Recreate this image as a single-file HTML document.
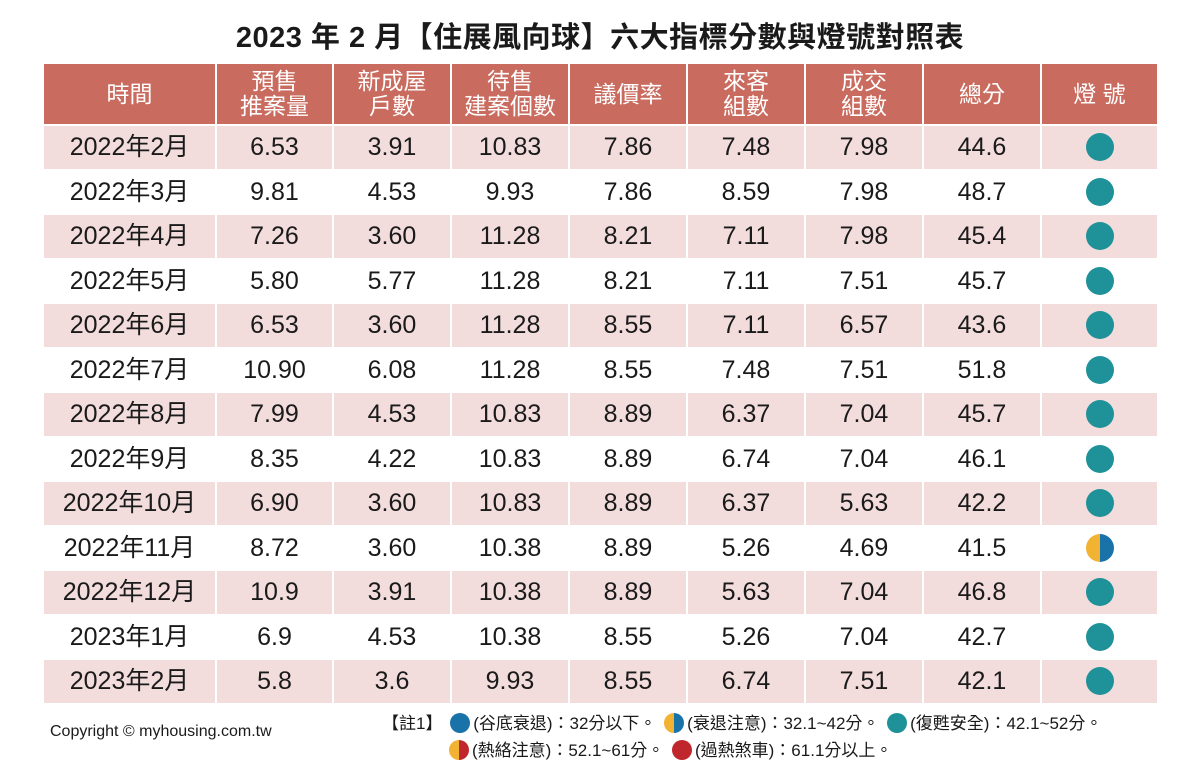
<!DOCTYPE html>
<html><head><meta charset="utf-8"><style>
*{margin:0;padding:0;box-sizing:border-box}
body{width:1200px;height:782px;background:#fff;position:relative;overflow:hidden;font-family:"Liberation Sans","Noto Sans CJK TC",sans-serif;color:#1a1a1a}
#title{position:absolute;left:0;width:1200px;top:20px;text-align:center;font-size:29px;font-weight:bold;letter-spacing:0.5px;line-height:36px}
table{position:absolute;left:42px;top:62px;border-collapse:collapse;table-layout:fixed}
td,th{border:2px solid #fff;text-align:center;vertical-align:middle;font-weight:normal}
th{background:#c96b5e;color:#fff;font-size:23px;line-height:25px;height:62px}
td{font-size:25px;height:44.5px;line-height:26px;padding:0}
td span.t{display:inline-block;line-height:26px;height:26px;overflow:visible}
tr.pk td{background:#f2dcdc}
.dot{display:inline-block;width:28px;height:28px;border-radius:50%;background:#1f9198;vertical-align:middle}
.half{background:linear-gradient(90deg,#f2b232 50%,#1a73a8 50%)}
.leg{position:absolute;font-size:17px;white-space:nowrap}
.ld{display:inline-block;width:20px;height:20px;border-radius:50%;vertical-align:-4px;margin:0 3px}
#copy{position:absolute;left:50px;top:723px;font-size:16px}
</style></head><body>
<div id="title">2023 年 2 月【住展風向球】六大指標分數與燈號對照表</div>
<table id="tbl">
<colgroup><col style="width:173px"><col style="width:117px"><col style="width:118px"><col style="width:118px"><col style="width:118px"><col style="width:118px"><col style="width:118px"><col style="width:118px"><col style="width:117px"></colgroup>
<thead><tr>
<th>時間</th>
<th>預售<br>推案量</th>
<th>新成屋<br>戶數</th>
<th>待售<br>建案個數</th>
<th>議價率</th>
<th>來客<br>組數</th>
<th>成交<br>組數</th>
<th>總分</th>
<th>燈 號</th>
</tr></thead>
<tbody id="tb"></tbody>
</table>
<div class="leg" style="left:382px;top:709px">【註1】 <span class="ld" style="background:#1a73a8"></span>(谷底衰退)：32分以下。 <span class="ld" style="background:linear-gradient(90deg,#f2b232 50%,#1a73a8 50%)"></span>(衰退注意)：32.1~42分。 <span class="ld" style="background:#1f9198"></span>(復甦安全)：42.1~52分。</div>
<div class="leg" style="left:446px;top:736px"><span class="ld" style="background:linear-gradient(90deg,#f2b232 50%,#c0272d 50%)"></span>(熱絡注意)：52.1~61分。 <span class="ld" style="background:#c0272d"></span>(過熱煞車)：61.1分以上。</div>
<div id="copy">Copyright © myhousing.com.tw</div>
<script>
const months=["2022年2月","2022年3月","2022年4月","2022年5月","2022年6月","2022年7月","2022年8月","2022年9月","2022年10月","2022年11月","2022年12月","2023年1月","2023年2月"];
const presale=["6.53","9.81","7.26","5.80","6.53","10.90","7.99","8.35","6.90","8.72","10.9","6.9","5.8"];
const newHomes=["3.91","4.53","3.60","5.77","3.60","6.08","4.53","4.22","3.60","3.60","3.91","4.53","3.6"];
const unsold=["10.83","9.93","11.28","11.28","11.28","11.28","10.83","10.83","10.83","10.38","10.38","10.38","9.93"];
const bargain=["7.86","7.86","8.21","8.21","8.55","8.55","8.89","8.89","8.89","8.89","8.89","8.55","8.55"];
const visitors=["7.48","8.59","7.11","7.11","7.11","7.48","6.37","6.74","6.37","5.26","5.63","5.26","6.74"];
const deals=["7.98","7.98","7.98","7.51","6.57","7.51","7.04","7.04","5.63","4.69","7.04","7.04","7.51"];
const totals=["44.6","48.7","45.4","45.7","43.6","51.8","45.7","46.1","42.2","41.5","46.8","42.7","42.1"];
const tb=document.getElementById('tb');
months.forEach((m,i)=>{
  const tr=document.createElement('tr');
  
  
  if(i%2===0)tr.className='pk';
  const vals=[m,presale[i],newHomes[i],unsold[i],bargain[i],visitors[i],deals[i],totals[i]];
  vals.forEach((v,j)=>{const td=document.createElement('td');
    const s=document.createElement('span');s.className='t';s.textContent=v;
    td.appendChild(s);
    
    
    tr.appendChild(td);});
  const td=document.createElement('td');
  
  
  const d=document.createElement('span');
  const t=parseFloat(totals[i]);
  d.className='dot'+(t<=42?' half':'');
  
  
  td.appendChild(d);tr.appendChild(td);tb.appendChild(tr);
});
</script>
</body></html>
